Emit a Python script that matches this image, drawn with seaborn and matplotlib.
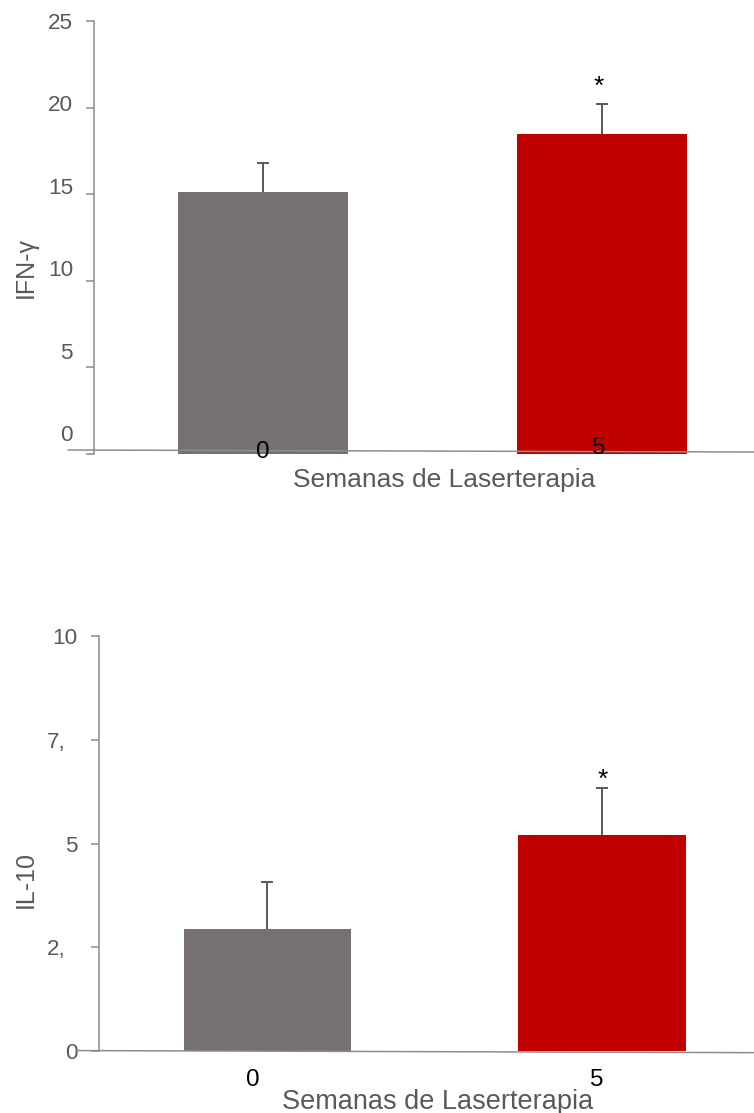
import matplotlib
matplotlib.use("Agg")
import matplotlib.pyplot as plt
import numpy as np
import pandas as pd
import seaborn as sns

# Grupos (semanas de laserterapia) e citocinas: média e erro padrão
semanas = ["0", "5"]
ifn_media = [15.1, 18.5]
ifn_erro = [1.7, 1.72]
il10_media = [2.94, 5.2]
il10_erro = [1.13, 1.14]
signif = ["", "*"]

ifn_ticks = [0, 5, 10, 15, 20, 25]
ifn_tick_labels = ["0", "5", "10", "15", "20", "25"]
il10_ticks = [0, 2.5, 5, 7.5, 10]
il10_tick_labels = ["0", "2,", "5", "7,", "10"]

cores = ["#767170", "#C00000"]
CINZA_TXT = "#595959"
CINZA_EIXO = "#8c8c8c"

sns.set_theme(style="white")
plt.rcParams["font.family"] = ["Liberation Sans", "DejaVu Sans"]

W, H = 754, 1113
fig = plt.figure(figsize=(W / 100, H / 100), dpi=100)


def eixo_px(l, t, r, b):
    return fig.add_axes([l / W, 1 - b / H, (r - l) / W, (b - t) / H])


def pt(px):
    return px * 0.72


def painel(ax, media, erro, ticks, tick_labels, ylim, xlim, ylabel, cfg):
    df = pd.DataFrame({"semanas": semanas, "valor": media})
    sns.barplot(data=df, x="semanas", y="valor", hue="semanas", palette=cores,
                width=0.5, saturation=1, errorbar=None, legend=False, ax=ax,
                linewidth=0, zorder=2)
    pos = np.arange(len(semanas))
    eb = ax.errorbar(pos, media, yerr=[np.zeros(len(media)), erro], fmt="none",
                     ecolor=CINZA_TXT, elinewidth=1.4, capsize=4.4,
                     capthick=1.4, zorder=3)
    eb[1][0].set_visible(False)

    ax.set_xlim(*xlim)
    ax.set_ylim(*ylim)
    ax.set_xlabel("")
    ax.set_ylabel("")
    sns.despine(ax=ax, bottom=True)
    ax.spines["left"].set_color(CINZA_EIXO)
    ax.spines["left"].set_linewidth(1.1)
    ax.set_yticks(ticks, labels=[""] * len(ticks))
    ax.set_xticks(pos, labels=[""] * len(pos))
    ax.tick_params(axis="y", left=True, length=5.8, width=1.1, color=CINZA_EIXO)
    ax.tick_params(axis="x", bottom=False)

    # rótulos do eixo y
    for v, lab in zip(ticks, tick_labels):
        yl = ylim[1] - (ylim[1] - v) * cfg["escala_rot"]
        dx = cfg["pad_y"] + (12.5 if lab.endswith(",") else 0)
        ax.annotate(lab, xy=(0, yl), xycoords=ax.get_yaxis_transform(),
                    xytext=(-pt(dx), 0), textcoords="offset points",
                    ha="right", va="center_baseline", fontsize=16.2,
                    color=CINZA_TXT, annotation_clip=False)

    # linha do eixo x
    ax.plot([cfg["linha_x0"], 1.0], cfg["linha_y"], color=CINZA_EIXO, lw=1.1,
            transform=ax.get_yaxis_transform(), clip_on=False, zorder=4)

    # rótulos das categorias
    for i, lab in enumerate(semanas):
        ox, oy = cfg["off_x"][i]
        ax.annotate(lab, xy=(i, 0), xytext=(pt(ox), pt(oy)),
                    textcoords="offset points", ha="center",
                    va="center_baseline", fontsize=17.4, color="black",
                    zorder=5, annotation_clip=False)

    # significância
    for i, s in enumerate(signif):
        if s:
            ax.annotate(s, xy=(i, media[i] + erro[i]),
                        xytext=(pt(cfg["star"][0]), pt(cfg["star"][1])),
                        textcoords="offset points", ha="center",
                        va="baseline", fontsize=19, color="black")

    fig.text(cfg["xlabel"][0] / W, 1 - cfg["xlabel"][1] / H,
             "Semanas de Laserterapia", ha="center", va="center_baseline",
             fontsize=cfg["xlabel_fs"], color=CINZA_TXT)
    fig.text(25.5 / W, 1 - cfg["ylabel_y"] / H, ylabel, rotation=90,
             ha="center", va="center", fontsize=18, color=CINZA_TXT)


ax1 = eixo_px(94, 21, 754, 454)
painel(ax1, ifn_media, ifn_erro, ifn_ticks, ifn_tick_labels,
       ylim=(0, 25), xlim=(-0.4985, 1.448), ylabel="IFN-γ",
       cfg=dict(escala_rot=0.952, pad_y=21, linha_x0=-0.0394,
                linha_y=[0.23, 0.115], off_x=[(0, 5), (-3, 9)],
                star=(-3, 9.5), xlabel=(444.5, 477), xlabel_fs=19,
                ylabel_y=268))

ax2 = eixo_px(98.5, 636, 754, 1051)
painel(ax2, il10_media, il10_erro, il10_ticks, il10_tick_labels,
       ylim=(0, 10), xlim=(-0.505, 1.454), ylabel="IL-10",
       cfg=dict(escala_rot=1.0, pad_y=20.5, linha_x0=-0.0328,
                linha_y=[0.01, -0.04], off_x=[(-14.5, -27), (-5, -27)],
                star=(0.7, 1.5), xlabel=(438, 1099), xlabel_fs=19.5,
                ylabel_y=879))

fig.savefig("out.png", dpi=100)
